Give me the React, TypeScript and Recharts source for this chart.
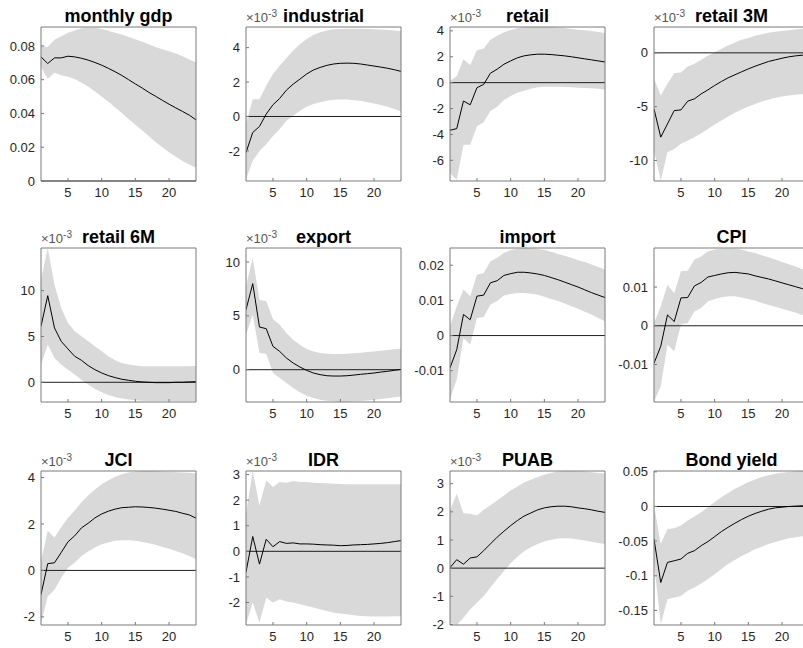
import { ComposedChart, Area, Line, XAxis, YAxis, ReferenceLine } from 'recharts'

// horizon (months) shared by every panel
const steps = [1, 2, 3, 4, 5, 6, 7, 8, 9, 10, 11, 12, 13, 14, 15, 16, 17, 18, 19, 20, 21, 22, 23, 24]
const xTicks = [5, 10, 15, 20]

// monthly gdp
const gdpMid = [0.0735, 0.0696, 0.0729, 0.0729, 0.0739, 0.0735, 0.0727, 0.0716, 0.0702, 0.0686, 0.0667, 0.0647, 0.0625, 0.06, 0.0575, 0.0551, 0.0525, 0.0502, 0.0478, 0.0455, 0.0433, 0.0412, 0.039, 0.0362]
const gdpHi = [0.08, 0.0794, 0.0837, 0.0857, 0.0878, 0.0892, 0.0904, 0.0908, 0.0908, 0.09, 0.089, 0.0878, 0.0867, 0.0853, 0.0839, 0.0825, 0.081, 0.0794, 0.078, 0.0769, 0.0755, 0.0739, 0.072, 0.0702]
const gdpLo = [0.0676, 0.0604, 0.0641, 0.0627, 0.0618, 0.0604, 0.0582, 0.0559, 0.053, 0.05, 0.0469, 0.0435, 0.0402, 0.0367, 0.0333, 0.03, 0.0265, 0.0231, 0.02, 0.0171, 0.0143, 0.0118, 0.0098, 0.0078]
const gdpTicks = [0, 0.02, 0.04, 0.06, 0.08]

// industrial (x1e-3)
const indMid = [-2.1, -0.93, -0.58, 0.14, 0.68, 1.05, 1.53, 1.88, 2.17, 2.47, 2.7, 2.85, 2.97, 3.05, 3.09, 3.1, 3.09, 3.05, 2.99, 2.93, 2.87, 2.8, 2.72, 2.62]
const indHi = [-0.4, 1.0, 1.0, 1.79, 2.47, 2.95, 3.4, 3.83, 4.2, 4.5, 4.74, 4.89, 4.99, 5.07, 5.09, 5.1, 5.1, 5.1, 5.09, 5.07, 5.05, 5.03, 4.99, 4.95]
const indLo = [-3.65, -2.58, -2.0, -1.61, -1.13, -0.74, -0.25, 0.04, 0.33, 0.56, 0.72, 0.83, 0.91, 0.97, 0.99, 0.99, 0.95, 0.91, 0.83, 0.76, 0.66, 0.56, 0.43, 0.29]
const indTicks = [-2, 0, 2, 4]

// retail (x1e-3)
const retMid = [-3.68, -3.55, -1.42, -1.71, -0.39, -0.13, 0.73, 1.04, 1.42, 1.68, 1.92, 2.07, 2.15, 2.2, 2.2, 2.17, 2.12, 2.07, 2.0, 1.92, 1.84, 1.76, 1.68, 1.6]
const retHi = [0.13, 0.52, 1.81, 1.37, 2.51, 2.64, 3.32, 3.63, 3.89, 4.07, 4.2, 4.3, 4.35, 4.35, 4.35, 4.32, 4.27, 4.22, 4.14, 4.09, 4.04, 3.99, 3.91, 3.83]
const retLo = [-7.0, -7.5, -4.8, -4.8, -3.37, -3.06, -2.2, -1.87, -1.35, -1.04, -0.78, -0.62, -0.47, -0.36, -0.31, -0.31, -0.31, -0.33, -0.36, -0.39, -0.42, -0.44, -0.47, -0.52]
const retTicks = [-6, -4, -2, 0, 2, 4]

// retail 3M (x1e-3)
const r3Mid = [-5.2, -7.83, -6.6, -5.36, -5.3, -4.49, -4.27, -3.81, -3.44, -3.03, -2.66, -2.32, -2.04, -1.76, -1.49, -1.24, -1.02, -0.8, -0.65, -0.5, -0.37, -0.28, -0.22, -0.15]
const r3Hi = [-2.41, -3.96, -2.88, -1.89, -1.83, -1.27, -1.02, -0.65, -0.28, 0.06, 0.37, 0.68, 0.96, 1.21, 1.39, 1.58, 1.73, 1.86, 1.95, 2.04, 2.1, 2.17, 2.23, 2.26]
const r3Lo = [-9.07, -11.86, -9.23, -8.92, -8.45, -8.14, -7.83, -7.46, -7.06, -6.66, -6.28, -5.91, -5.57, -5.26, -4.98, -4.74, -4.52, -4.33, -4.18, -4.06, -3.96, -3.9, -3.84, -3.81]
const r3Ticks = [-10, -5, 0]

// retail 6M (x1e-3)
const r6Mid = [6.1, 9.45, 5.93, 4.47, 3.64, 2.84, 2.4, 1.82, 1.38, 1.02, 0.73, 0.51, 0.33, 0.22, 0.11, 0.04, 0, -0.04, -0.04, -0.04, 0, 0, 0.04, 0.07]
const r6Hi = [11.2, 14.65, 10.65, 8.1, 6.47, 5.56, 5.02, 4.47, 3.93, 3.38, 2.84, 2.4, 2.11, 1.93, 1.82, 1.75, 1.75, 1.75, 1.75, 1.75, 1.75, 1.75, 1.75, 1.78]
const r6Lo = [1.93, 4.11, 2.65, 1.93, 1.38, 0.84, 0.29, -0.25, -0.73, -1.09, -1.38, -1.6, -1.78, -1.89, -1.96, -2.0, -2.04, -2.04, -2.04, -2.04, -2.04, -2.04, -2.04, -2.07]
const r6Ticks = [0, 5, 10]

// export (x1e-3)
const expMid = [5.57, 7.99, 3.96, 3.81, 2.17, 1.7, 1.08, 0.62, 0.25, -0.06, -0.31, -0.46, -0.56, -0.59, -0.59, -0.56, -0.5, -0.43, -0.37, -0.31, -0.22, -0.15, -0.06, 0.03]
const expHi = [7.74, 10.37, 6.5, 6.35, 4.7, 4.18, 3.4, 2.79, 2.32, 1.92, 1.7, 1.55, 1.49, 1.46, 1.46, 1.49, 1.52, 1.58, 1.64, 1.7, 1.76, 1.83, 1.89, 1.95]
const expLo = [3.25, 5.11, 1.55, 1.49, -0.31, -0.77, -1.24, -1.7, -2.1, -2.41, -2.63, -2.79, -2.88, -2.94, -2.97, -2.97, -2.94, -2.91, -2.85, -2.79, -2.73, -2.66, -2.57, -2.48]
const expTicks = [0, 5, 10]

// import
const impMid = [-0.0092, -0.004, 0.006, 0.0045, 0.0112, 0.0115, 0.015, 0.0156, 0.0171, 0.0176, 0.018, 0.018, 0.0178, 0.0175, 0.0171, 0.0165, 0.0159, 0.0152, 0.0145, 0.0138, 0.013, 0.0122, 0.0115, 0.0108]
const impHi = [0.0027, 0.0083, 0.0131, 0.0112, 0.0173, 0.0178, 0.0211, 0.0221, 0.0235, 0.0243, 0.0247, 0.0249, 0.0248, 0.0246, 0.0243, 0.0238, 0.0232, 0.0227, 0.0221, 0.0214, 0.0209, 0.0202, 0.0195, 0.0188]
const impLo = [-0.0182, -0.0125, -0.0007, -0.0026, 0.005, 0.0053, 0.0088, 0.0098, 0.0114, 0.0118, 0.0121, 0.0121, 0.0119, 0.0116, 0.011, 0.0104, 0.0098, 0.0091, 0.0083, 0.0076, 0.0068, 0.006, 0.005, 0.0041]
const impTicks = [-0.01, 0, 0.01, 0.02]

// CPI
const cpiMid = [-0.0097, -0.0053, 0.0028, 0.0011, 0.0072, 0.0073, 0.0103, 0.0112, 0.0126, 0.013, 0.0134, 0.0137, 0.0138, 0.0136, 0.0134, 0.0129, 0.0125, 0.0121, 0.0116, 0.0111, 0.0106, 0.0101, 0.0096, 0.0088]
const cpiHi = [0.0007, 0.005, 0.0106, 0.0084, 0.0141, 0.0142, 0.0171, 0.0179, 0.0192, 0.0197, 0.0199, 0.02, 0.0199, 0.0197, 0.0192, 0.0188, 0.0182, 0.0177, 0.0171, 0.0165, 0.0159, 0.0153, 0.0147, 0.0141]
const cpiLo = [-0.0196, -0.0157, -0.0049, -0.0066, 0.0003, 0.0007, 0.0037, 0.0046, 0.0063, 0.0069, 0.0074, 0.0076, 0.0076, 0.0073, 0.0069, 0.0065, 0.0059, 0.0054, 0.0049, 0.0044, 0.0039, 0.0034, 0.0028, 0.0024]
const cpiTicks = [-0.01, 0, 0.01]

// JCI (x1e-3)
const jciMid = [-1.04, 0.29, 0.33, 0.77, 1.23, 1.49, 1.83, 2.03, 2.26, 2.43, 2.55, 2.64, 2.7, 2.72, 2.74, 2.73, 2.71, 2.68, 2.64, 2.59, 2.54, 2.46, 2.39, 2.25]
const jciHi = [0.4, 1.71, 1.42, 1.86, 2.26, 2.58, 2.94, 3.23, 3.48, 3.71, 3.88, 4.03, 4.14, 4.22, 4.26, 4.28, 4.28, 4.28, 4.26, 4.25, 4.23, 4.22, 4.2, 4.17]
const jciLo = [-2.28, -1.12, -0.83, -0.32, 0.12, 0.33, 0.62, 0.81, 0.99, 1.13, 1.2, 1.28, 1.3, 1.3, 1.28, 1.22, 1.17, 1.1, 1.01, 0.93, 0.84, 0.74, 0.62, 0.48]
const jciTicks = [-2, 0, 2, 4]

// IDR (x1e-3)
const idrMid = [-0.82, 0.58, -0.5, 0.47, 0.18, 0.38, 0.31, 0.33, 0.29, 0.29, 0.28, 0.26, 0.25, 0.24, 0.22, 0.23, 0.25, 0.26, 0.27, 0.29, 0.31, 0.34, 0.38, 0.42]
const idrHi = [1.47, 3.14, 1.79, 2.77, 2.51, 2.71, 2.68, 2.75, 2.71, 2.71, 2.68, 2.67, 2.66, 2.64, 2.63, 2.62, 2.62, 2.62, 2.62, 2.62, 2.62, 2.62, 2.62, 2.62]
const idrLo = [-2.85, -2.0, -2.79, -1.81, -2.0, -1.87, -1.96, -2.0, -2.07, -2.13, -2.2, -2.26, -2.33, -2.4, -2.43, -2.46, -2.5, -2.53, -2.54, -2.55, -2.55, -2.55, -2.54, -2.54]
const idrTicks = [-2, -1, 0, 1, 2, 3]

// PUAB (x1e-3)
const puabMid = [0.02, 0.3, 0.14, 0.36, 0.4, 0.62, 0.86, 1.1, 1.31, 1.51, 1.69, 1.85, 1.96, 2.07, 2.14, 2.18, 2.2, 2.2, 2.18, 2.14, 2.11, 2.07, 2.02, 1.98]
const puabHi = [2.05, 2.64, 1.95, 1.93, 1.87, 2.07, 2.23, 2.4, 2.58, 2.76, 2.9, 3.04, 3.14, 3.24, 3.32, 3.38, 3.43, 3.45, 3.45, 3.44, 3.43, 3.41, 3.38, 3.36]
const puabLo = [-1.94, -2.02, -1.76, -1.46, -1.23, -0.99, -0.69, -0.39, -0.1, 0.17, 0.4, 0.6, 0.74, 0.86, 0.95, 1.01, 1.05, 1.06, 1.05, 1.02, 0.98, 0.94, 0.89, 0.86]
const puabTicks = [-2, -1, 0, 1, 2, 3]

// Bond yield
const bondMid = [-0.0469, -0.1097, -0.0807, -0.0783, -0.0758, -0.0676, -0.0638, -0.0565, -0.0507, -0.0435, -0.0362, -0.03, -0.0242, -0.0188, -0.014, -0.0101, -0.0068, -0.0039, -0.0019, -0.001, 0, 0.0005, 0.001, 0.001]
const bondHi = [0.0014, -0.054, -0.0324, -0.0314, -0.0275, -0.0203, -0.0145, -0.0082, -0.001, 0.0063, 0.0135, 0.0193, 0.0256, 0.0304, 0.0353, 0.0391, 0.0425, 0.0449, 0.0473, 0.0488, 0.0498, 0.0507, 0.0512, 0.0512]
const bondLo = [-0.0807, -0.17, -0.1338, -0.1314, -0.129, -0.1217, -0.1169, -0.1111, -0.1048, -0.0976, -0.0903, -0.0831, -0.0773, -0.0715, -0.0667, -0.0618, -0.058, -0.0541, -0.0512, -0.0483, -0.0459, -0.0444, -0.043, -0.0415]
const bondTicks = [-0.15, -0.1, -0.05, 0, 0.05]

interface Panel {
  title: string
  mid: number[]
  lo: number[]
  hi: number[]
  domain: [number, number]
  ticks: number[]
  milli: boolean
}

const panels: Panel[] = [
  { title: 'monthly gdp', mid: gdpMid, lo: gdpLo, hi: gdpHi, domain: [0, 0.0912], ticks: gdpTicks, milli: false },
  { title: 'industrial', mid: indMid, lo: indLo, hi: indHi, domain: [-3.75, 5.2], ticks: indTicks, milli: true },
  { title: 'retail', mid: retMid, lo: retLo, hi: retHi, domain: [-7.6, 4.3], ticks: retTicks, milli: true },
  { title: 'retail 3M', mid: r3Mid, lo: r3Lo, hi: r3Hi, domain: [-11.9, 2.4], ticks: r3Ticks, milli: true },
  { title: 'retail 6M', mid: r6Mid, lo: r6Lo, hi: r6Hi, domain: [-2.15, 14.65], ticks: r6Ticks, milli: true },
  { title: 'export', mid: expMid, lo: expLo, hi: expHi, domain: [-3.0, 11.3], ticks: expTicks, milli: true },
  { title: 'import', mid: impMid, lo: impLo, hi: impHi, domain: [-0.0189, 0.0249], ticks: impTicks, milli: false },
  { title: 'CPI', mid: cpiMid, lo: cpiLo, hi: cpiHi, domain: [-0.0197, 0.0201], ticks: cpiTicks, milli: false },
  { title: 'JCI', mid: jciMid, lo: jciLo, hi: jciHi, domain: [-2.35, 4.28], ticks: jciTicks, milli: true },
  { title: 'IDR', mid: idrMid, lo: idrLo, hi: idrHi, domain: [-2.88, 3.14], ticks: idrTicks, milli: true },
  { title: 'PUAB', mid: puabMid, lo: puabLo, hi: puabHi, domain: [-2.02, 3.45], ticks: puabTicks, milli: true },
  { title: 'Bond yield', mid: bondMid, lo: bondLo, hi: bondHi, domain: [-0.171, 0.0512], ticks: bondTicks, milli: false },
]

const FONT = '"Liberation Sans", Arial, Helvetica, sans-serif'
const AXIS = '#7a7a7a'
const TEXT = '#262626'
const colLeft = [41, 246, 450, 654]
const rowTop = [27, 248, 471]
const PW = 155
const PH = 154
const tickStyle = { fill: TEXT, fontSize: 13, fontFamily: FONT }

function IrfPanel({ p, left, top }: { p: Panel; left: number; top: number }) {
  const data = steps.map((s, i) => ({ step: s, mid: p.mid[i], band: [p.lo[i], p.hi[i]] }))
  return (
    <>
      <div
        style={{
          position: 'absolute', left, top: top - 20, width: PW, textAlign: 'center',
          fontSize: 18, lineHeight: '18px', fontWeight: 'bold', color: '#000', whiteSpace: 'nowrap',
        }}
      >
        {p.title}
      </div>
      {p.milli && (
        <div style={{ position: 'absolute', left, top: top - 16, fontSize: 13, lineHeight: '13px', color: '#555', whiteSpace: 'nowrap' }}>
          ×10<span style={{ fontSize: 10, position: 'relative', top: -5 }}>-3</span>
        </div>
      )}
      <div style={{ position: 'absolute', left: left - 40, top: top - 6 }}>
        <ComposedChart width={40 + PW + 1 + 5} height={5 + 1 + PH + 25} data={data} margin={{ top: 5, right: 5, bottom: 0, left: 0 }}>
          <XAxis
            dataKey="step" type="number" domain={[1, 24]} ticks={xTicks} interval={0} height={25}
            tickSize={-3} tickMargin={10} tick={tickStyle} axisLine={{ stroke: AXIS }} tickLine={{ stroke: AXIS }}
            allowDataOverflow
          />
          <XAxis
            xAxisId="top" orientation="top" type="number" domain={[1, 24]} ticks={xTicks} interval={0} height={1}
            tickSize={-3} tick={false} axisLine={{ stroke: AXIS }} tickLine={{ stroke: AXIS }} allowDataOverflow
          />
          <YAxis
            type="number" domain={p.domain} ticks={p.ticks} interval={0} width={40}
            tickSize={-3} tickMargin={9} tick={tickStyle} tickFormatter={(v: number) => String(v)}
            axisLine={{ stroke: AXIS }} tickLine={{ stroke: AXIS }} allowDataOverflow
          />
          <YAxis
            yAxisId="right" orientation="right" type="number" domain={p.domain} ticks={p.ticks} interval={0} width={1}
            tickSize={-3} tick={false} axisLine={{ stroke: AXIS }} tickLine={{ stroke: AXIS }} allowDataOverflow
          />
          <Area dataKey="band" type="linear" stroke="none" fill="#d9d9d9" fillOpacity={1} isAnimationActive={false} />
          <ReferenceLine y={0} stroke="#1f1f1f" strokeWidth={1} />
          <Line dataKey="mid" type="linear" stroke="#000" strokeWidth={1} dot={false} activeDot={false} isAnimationActive={false} />
        </ComposedChart>
      </div>
    </>
  )
}

export default function App() {
  return (
    <div
      style={{
        position: 'absolute', left: 0, top: 0, width: 803, height: 648, overflow: 'hidden',
        background: '#fff', fontFamily: FONT,
      }}
    >
      {panels.map((p, i) => (
        <IrfPanel key={p.title} p={p} left={colLeft[i % 4]} top={rowTop[Math.floor(i / 4)]} />
      ))}
    </div>
  )
}
